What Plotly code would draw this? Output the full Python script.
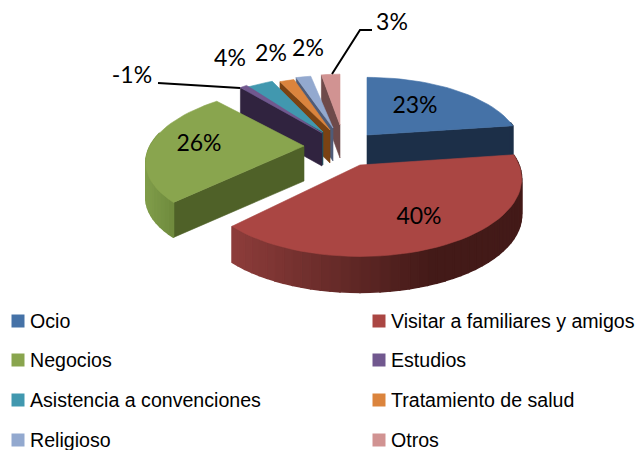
import math
import plotly.graph_objects as go

categories = ["Ocio", "Visitar a familiares y amigos", "Negocios", "Estudios",
              "Asistencia a convenciones", "Tratamiento de salud", "Religioso", "Otros"]
values = [23, 40, 26, -1, 4, 2, 2, 3]

colors = ["#4572a7", "#aa4643", "#89a54e", "#71588f", "#4198af", "#db843d", "#93a9cf", "#d19392"]
# radial-edge wall colours
wall_dark = ["#1c2f48", "#451b19", "#4f6128", "#30233f", "#1f5560", "#7a4213", "#4f5c78", "#6e4a4a"]
# outer wall gradient: (left colour, right colour, x at left, x at right)
outer = [("#1c2f48", "#1c2f48", 360, 520),
         ("#8c3c3a", "#431a18", 235, 430),
         ("#7f9c49", "#6a853a", 147, 180),
         ("#30233f", "#30233f", 240, 320),
         ("#1f5560", "#1f5560", 240, 320),
         ("#7a4213", "#7a4213", 270, 320),
         ("#4f5c78", "#4f5c78", 290, 330),
         ("#6e4a4a", "#6e4a4a", 320, 345)]
# slice placement: apex x, apex y, rx, ry, depth, shear
geom = [(367, 135, 151, 68, 30, 0),
        (360, 165, 159, 75, 36, 0),
        (304, 146, 154, 69, 35, -8),
        (322, 133, 136, 70, 33, 0),
        (323, 132, 140, 65, 33, 0),
        (330, 130, 138, 62, 33, 0),
        (333, 128, 141, 62, 33, 0),
        (340, 125, 118, 60, 33, 0)]
edge_wall = ["end", None, "start", "start", "start", "start", "start", "start"]
draw_order = [7, 6, 5, 4, 3, 0, 2, 1]
P = 0.18

label_pos = [(415, 107), (419, 218), (199, 145), (132, 77), (230, 60), (271, 55), (308, 50), (392, 24)]
leader_x = [[158, 240], [372, 360, 332]]
leader_y = [[83, 88], [30, 30, 74]]
legend_x = [18, 379]
legend_y = [321, 360, 400, 440]

mags = [abs(v) for v in values]
total = sum(mags)
angles = [0]
for m in mags:
    angles.append(angles[-1] + m / total * 2 * math.pi)


def pt(i, th):
    ax, ay, rx, ry, _, sh = geom[i]
    u, v = math.sin(th), -math.cos(th)
    k = 1 - P * v
    return ax + rx * u / k + sh * v / k, ay + ry * v / k


def mix(a, b, t):
    t = max(0, min(1, t))
    ca = [int(a[j:j + 2], 16) for j in (1, 3, 5)]
    cb = [int(b[j:j + 2], 16) for j in (1, 3, 5)]
    return "#%02x%02x%02x" % tuple(round(x + (y - x) * t) for x, y in zip(ca, cb))


fig = go.Figure()


def poly(xs, ys, color, lw=0.6):
    fig.add_trace(go.Scatter(x=xs + xs[:1], y=ys + ys[:1], mode="lines", fill="toself",
                             fillcolor=color, line=dict(color=color, width=lw),
                             hoverinfo="skip", showlegend=False))


for i in draw_order:
    a0, a1 = angles[i], angles[i + 1]
    ax, ay, _, _, d, _ = geom[i]
    steps = max(2, int(round((a1 - a0) / (2 * math.pi) * 120)))
    ths = [a0 + (a1 - a0) * s / steps for s in range(steps + 1)]
    pts = [pt(i, t) for t in ths]
    # radial wall
    if edge_wall[i]:
        e = pts[0] if edge_wall[i] == "start" else pts[-1]
        poly([ax, e[0], e[0], ax], [ay, e[1], e[1] + d, ay + d], wall_dark[i])
    # outer wall
    c0, c1, x0, x1 = outer[i]
    for s in range(steps):
        p, q = pts[s], pts[s + 1]
        if min(-math.cos(ths[s]), -math.cos(ths[s + 1])) < -0.2:
            continue
        col = mix(c0, c1, ((p[0] + q[0]) / 2 - x0) / (x1 - x0))
        poly([p[0], q[0], q[0], p[0]], [p[1], q[1], q[1] + d, p[1] + d], col, lw=1.5)
    # top face
    poly([ax] + [p[0] for p in pts], [ay] + [p[1] for p in pts], colors[i])

for lx, ly in zip(leader_x, leader_y):
    fig.add_trace(go.Scatter(x=lx, y=ly, mode="lines", line=dict(color="black", width=2),
                             hoverinfo="skip", showlegend=False))

fig.add_trace(go.Scatter(x=[p[0] for p in label_pos], y=[p[1] for p in label_pos], mode="text",
                         text=[f"{v}%" for v in values], textposition="middle center",
                         textfont=dict(family="Lato", size=23, color="black"),
                         hoverinfo="skip", showlegend=False))

for idx, name in enumerate(categories):
    lx, ly = legend_x[idx % 2], legend_y[idx // 2]
    fig.add_trace(go.Scatter(x=[lx], y=[ly], mode="markers",
                             marker=dict(symbol="square", size=13, color=colors[idx]),
                             hoverinfo="skip", showlegend=False))
    fig.add_annotation(x=lx + 10, y=ly, text=name, showarrow=False, xanchor="left", yanchor="middle",
                       font=dict(family="Liberation Sans", size=19.6, color="black"))

fig.update_layout(width=637, height=450, margin=dict(l=0, r=0, t=0, b=0),
                  paper_bgcolor="white", plot_bgcolor="white", showlegend=False,
                  xaxis=dict(range=[0, 637], visible=False, fixedrange=True),
                  yaxis=dict(range=[450, 0], visible=False, fixedrange=True))
fig.write_html("out.html", config=dict(displayModeBar=False),
               post_script="document.body.style.margin='0';document.body.style.overflow='hidden';")
